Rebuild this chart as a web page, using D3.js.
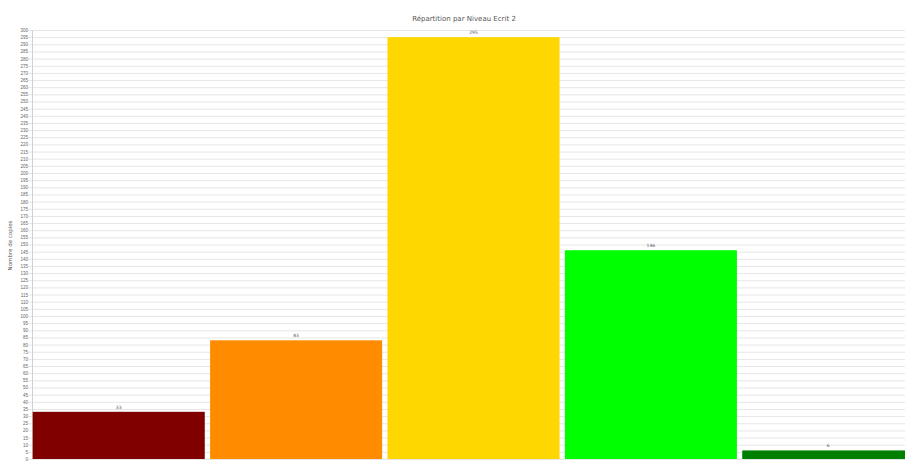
<!DOCTYPE html>
<html>
<head>
<meta charset="utf-8">
<script src="https://cdn.jsdelivr.net/npm/d3@7"></script>
<style>
  body { margin: 0; background: #fff; }
  svg { display: block; font-family: "DejaVu Sans", sans-serif; }
</style>
</head>
<body>
<svg id="chart" width="905" height="461"></svg>
<script>
const title = "Répartition par Niveau Ecrit 2";
const yLabel = "Nombre de copies";
const categories = ["Niveau 1", "Niveau 2", "Niveau 3", "Niveau 4", "Niveau 5"];
const values = [33, 83, 295, 146, 6];
const colors = ["#800000", "#ff8c00", "#ffd700", "#00ff00", "#008000"];
const yMax = 300;
const yStep = 5;

const svg = d3.select("#chart");
const W = 905, H = 461;
const m = { top: 30, bottom: 2, left: 32 };

// plot area extends slightly past the right edge (clipped in the reference)
const x = d3.scaleBand().domain(categories).range([m.left, 915]).paddingInner(0.03).paddingOuter(0.004);
const y = d3.scaleLinear().domain([0, yMax]).range([H - m.bottom, m.top]);

const ticks = d3.range(0, yMax + 0.001, yStep);

// grid
svg.append("g").selectAll("line").data(ticks).join("line")
  .attr("x1", m.left - 4).attr("x2", W)
  .attr("y1", d => y(d) + 0.5).attr("y2", d => y(d) + 0.5)
  .attr("stroke", "#e6e6e6").attr("stroke-width", 1);

// y axis
const yAxis = d3.axisLeft(y).tickValues(ticks).tickSize(0).tickPadding(4);
const ga = svg.append("g").attr("transform", `translate(${m.left},0)`).call(yAxis);
ga.select(".domain").attr("stroke", "#d0d0d0");
ga.selectAll("text").attr("font-size", 4.5).attr("fill", "#666");

// bars
svg.append("g").selectAll("rect").data(values).join("rect")
  .attr("x", (d, i) => x(categories[i]))
  .attr("width", x.bandwidth())
  .attr("y", d => y(d))
  .attr("height", d => y(0) - y(d))
  .attr("fill", (d, i) => colors[i]);

// value labels
svg.append("g").selectAll("text").data(values).join("text")
  .attr("x", (d, i) => x(categories[i]) + x.bandwidth() / 2)
  .attr("y", d => y(d) - 3)
  .attr("text-anchor", "middle")
  .attr("font-size", 4.5)
  .attr("fill", "#555")
  .text(d => d);

// title
svg.append("text")
  .attr("x", 464).attr("y", 21)
  .attr("text-anchor", "middle")
  .attr("font-size", 7).attr("fill", "#555")
  .text(title);

// y label
svg.append("text")
  .attr("transform", `translate(12,${(m.top + H) / 2}) rotate(-90)`)
  .attr("text-anchor", "middle")
  .attr("font-size", 5.5).attr("fill", "#555")
  .text(yLabel);
</script>
</body>
</html>
